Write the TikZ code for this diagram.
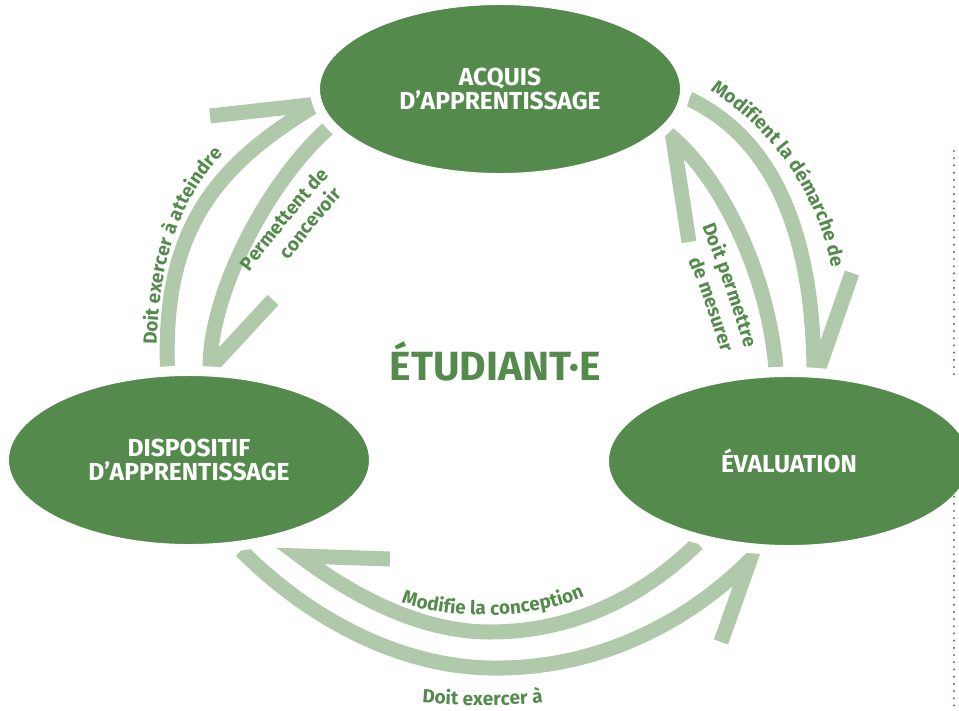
\documentclass[tikz,border=0pt]{standalone}
\usepackage{fontspec}
\setmainfont{Fira Sans}
\usetikzlibrary{shapes.geometric,decorations.text}
\definecolor{leaf}{RGB}{84,139,77}
\definecolor{pale}{RGB}{177,201,171}
\pgfdeclarelayer{back}
\pgfsetlayers{back,main}
\newcommand\labelfont{\fontsize{13.5}{15}\selectfont\bfseries}
\tikzset{
  stage/.style={ellipse, fill=leaf, draw=white, line width=0.25cm,
    minimum width=9.25cm, minimum height=4.45cm, inner sep=0pt,
    text=white, align=center, font=\fontsize{17.5}{17.7}\selectfont\bfseries},
  flow/.style={draw=pale, line width=0.375cm, line join=miter},
  along/.style={decorate, decoration={text along path, text align=center,
    text color=leaf, text={|\labelfont|#1}}},
  dots/.style={leaf, line width=0.06cm, line cap=round, dash pattern=on 0pt off 0.18cm}
}

\begin{document}
\begin{tikzpicture}[x=0.025cm, y=-0.025cm]
  \useasboundingbox (0,0) rectangle (959,710);
  % the three stages
  \node[stage] (acquis) at (500,89) {ACQUIS\\D’APPRENTISSAGE};
  \node[stage] (dispositif) at (189,460) {DISPOSITIF\\D’APPRENTISSAGE};
  \node[stage] (evaluation) at (789,461) {ÉVALUATION};
  \node[text=leaf, font=\fontsize{29}{30}\selectfont\bfseries] (etudiant) at (495,361) {ÉTUDIANT·E};

  % arrow tips and barbs
  \coordinate (t1) at (318,104); \coordinate (b1) at (210,116);
  \coordinate (t2) at (210,368); \coordinate (b2) at (273,300);
  \coordinate (t3) at (814,382); \coordinate (b3) at (852,273);
  \coordinate (t4) at (673,138); \coordinate (b4) at (689,242);
  \coordinate (t5) at (300,556); \coordinate (b5) at (390,559);
  \coordinate (t6) at (750,560); \coordinate (b6) at (721,642);

  \begin{pgfonlayer}{back}
    \fill[white] (0,0) rectangle (959,710);
    \draw[flow] (dispositif.103) .. controls (163,230) and (215,165) .. (t1) -- (b1);
    \draw[flow] (acquis.193) .. controls (270,180) and (210,290) .. (t2) -- (b2);
    \draw[flow] (acquis.-3) .. controls (765,135) and (815,220) .. (t3) -- (b3);
    \draw[flow] (evaluation.98) .. controls (768,275) and (722,180) .. (t4) -- (b4);
    \draw[flow] (evaluation.222) .. controls (645,595) and (575,632) .. (490,632)
      .. controls (415,632) and (345,590) .. (t5) -- (b5);
    \draw[flow] (dispositif.-60) .. controls (300,610) and (390,666) .. (490,668)
      .. controls (600,670) and (690,620) .. (t6) -- (b6);
  \end{pgfonlayer}

  % labels
  \path[along={Doit exercer à atteindre}] (157,385) .. controls (152,250) and (185,185) .. (252,126);
  \path[along={Permettent de}] (232,296) .. controls (267,246) and (307,198) .. (350,154);
  \path[along={concevoir}] (273,283) .. controls (299,245) and (329,209) .. (361,175);
  \path[along={Modifient la démarche de}] (689,78) .. controls (771,121) and (826,200) .. (835,292);
  \path[along={Doit permettre}] (693,204) .. controls (716,259) and (736,315) .. (751,372);
  \path[along={de mesurer}] (680,238) .. controls (699,284) and (715,330) .. (728,376);
  \path[along={Modifie la conception}] (383,595) .. controls (435,622) and (545,624) .. (602,587);
  \path[along={Doit exercer à}] (398,700) .. controls (445,707) and (520,707) .. (567,700);

  \draw[dots] (954,151) -- (954,380);
  \draw[dots] (954,475) -- (954,710);
\end{tikzpicture}
\end{document}
